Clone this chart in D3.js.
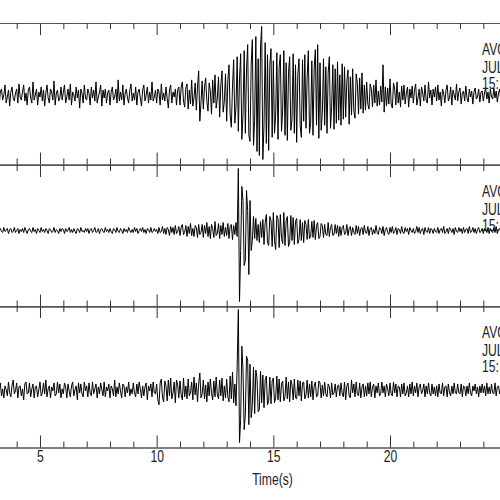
<!DOCTYPE html>
<html><head><meta charset="utf-8">
<script src="https://cdn.jsdelivr.net/npm/d3@7"></script>
<style>body{margin:0;background:#fff}svg{display:block}</style>
</head><body>
<svg id="c" width="500" height="500"></svg>
<script>
// ---- data ----
const timeStart = 3.0;        // s, first sample
const sampleInterval = 0.05;  // s (one row of 20 samples = 1 s)
const majorTicks = [0, 5, 10, 15, 20, 25];
const tickLabels = ["0", "5", "10", "15", "20", "25"];
const minorTicks = [1,2,3,4,6,7,8,9,11,12,13,14,16,17,18,19,21,22,23,24];
const axisTitle = "Time(s)";
const headerLines = [
  ["AVO", "JUL", "15:"],
  ["AVO", "JUL", "15:"],
  ["AVO", "JUL", "15:"]
];
const traceZ = [
 5,-3,8,2,-6,-10,3,6,-5,0,10,-8,-2,5,-11,3,8,-3,-6,2,
 6,-8,11,-2,-5,3,10,-6,2,-10,5,8,-3,-8,13,-5,0,6,-10,3,
 -2,8,-6,5,-11,2,10,-3,-8,6,3,-5,14,-10,2,5,-6,-3,8,-5,
 3,10,-8,-2,6,-5,11,-10,3,0,-6,8,-3,5,-13,6,2,-8,10,-3,
 -5,6,2,-10,8,-3,5,-6,13,-8,-2,3,10,-11,5,-3,6,-8,2,5,
 -10,3,8,-5,-2,6,-8,15,-6,3,-5,10,-10,2,6,-3,-8,5,11,-6,
 2,-5,8,-10,3,6,-3,-11,5,10,-6,0,8,-8,3,-5,13,-6,-2,5,
 -8,6,3,-10,11,-5,2,-6,8,-3,-13,5,10,-8,3,-2,6,-10,5,8,
 -10,8,13,-6,-12,7,11,-14,5,-9,15,-11,-3,12,-15,8,24,-26,-7,14,
 -14,8,17,-6,-16,12,4,-19,15,-8,20,-13,-3,18,-22,10,24,-17,-6,21,
 -26,14,30,-20,-32,9,35,-28,-12,38,-36,16,41,-44,-20,44,-38,25,50,-40,
 -46,30,55,-50,-25,58,-56,36,-60,48,68,-64,-30,52,-48,40,-55,30,46,-42,
 34,-38,-20,42,-44,28,40,-36,-15,44,-40,32,-45,22,38,-35,-24,41,-38,30,
 -47,20,36,-30,-42,35,-26,40,-33,18,44,-38,-28,34,-40,26,45,-30,50,-43,
 32,-35,-18,36,-30,28,-38,22,38,-33,-12,30,-34,26,-28,33,-25,20,-30,31,
 -24,28,-22,14,25,-29,18,-20,26,-16,-23,21,12,-19,17,-14,22,-18,10,-15,
 13,-9,-14,11,6,-12,10,-8,15,-11,4,-10,9,-7,30,-17,8,-11,7,-9,
 16,-9,-13,12,6,-10,13,-8,3,-12,9,-5,10,-9,2,8,-12,6,-3,9,
 -8,5,11,-10,-3,6,-11,8,2,-6,10,-5,-8,13,-3,5,-10,6,-2,8,
 -6,10,-5,3,-11,6,2,-8,5,10,-6,-3,8,-10,5,0,-5,11,-6,3,
 7,-9,2,4,-6,9,-3,-7,6,-2,4,-9,3,7,-4,-2,6,-7,3,4,
 -6,2,7,-4,3,-8,6,-2,-4,7,-3,4,-7,2,6,-6,3,-3,7,-4,
 3
];
const traceN = [
 1,-2,2,0,-3,1,2,-1,-2,3,-1,0,2,-3,1,2,-2,-1,3,-2,
 0,2,-3,1,-1,2,-2,3,0,-3,1,2,-1,-2,3,-1,1,-3,2,0,
 -2,3,-1,1,-2,2,0,-3,2,1,-2,-1,3,-2,1,0,-3,2,-1,2,
 1,-3,2,-1,0,3,-2,1,-2,2,-1,-3,2,1,-2,3,-1,0,-2,2,
 -1,2,-3,1,2,-2,0,3,-2,-1,2,-3,1,2,-1,-2,3,-1,1,-2,
 2,-1,-3,2,1,-2,3,-1,-2,2,0,-3,2,-1,1,-2,3,0,-2,1,
 -2,3,-1,2,-3,0,2,-1,3,-2,1,-3,2,1,-2,3,-2,-1,2,-1,
 1,-3,3,-2,-1,4,-3,2,-4,3,1,-5,4,-2,3,-4,5,-3,-1,4,
 -5,3,6,-4,-2,5,-6,4,-3,7,-5,2,-6,5,3,-7,6,-4,-2,6,
 -7,5,-3,8,-6,4,-8,6,2,-7,9,-5,-3,7,-8,5,-4,8,-6,3,
 -5,7,-8,4,6,-9,5,-4,8,-6,62,-71,-20,44,30,-35,-30,40,20,-44,
 30,-20,-10,14,-8,12,-10,6,-12,9,-7,11,-14,8,16,-12,-15,14,10,-16,
 18,-10,-19,15,12,-17,16,-8,-13,18,-15,10,14,-16,-12,15,-10,13,-14,9,
 12,-13,-9,11,-10,8,-12,10,6,-9,11,-8,-6,9,-7,10,-9,5,8,-8,
 -6,7,5,-7,6,-4,-5,8,-6,3,6,-5,-4,6,-3,5,-6,4,-5,3,
 5,-4,-3,6,-5,2,4,-5,3,-2,-4,5,-3,4,-5,2,3,-4,5,-2,
 -3,4,-5,2,3,-4,1,-3,5,-2,-4,3,2,-3,4,-5,1,3,-2,-4,
 3,-2,4,-3,-1,3,-4,2,1,-3,4,-2,-3,3,-1,2,-4,3,0,-2,
 2,-3,-1,4,-2,3,-3,1,2,-4,3,-1,-2,3,-3,2,1,-3,2,-1,
 -2,3,-3,1,2,-2,4,-3,-1,2,-3,3,1,-2,2,-4,3,-1,-2,3,
 -1,2,-3,3,-2,1,2,-3,4,-2,-1,3,-2,2,-3,1,3,-2,-1,2,
 -3,2,1,-2,3,-3,2,-1,-2,3,-2,4,-3,1,2,-2,-1,3,-3,2,
 -1
];
const traceE = [
 6,-4,8,-1,-7,3,7,-6,1,-8,4,0,-6,8,-3,-7,4,10,-4,-1,
 7,-8,3,4,-6,1,-10,6,8,-4,-3,7,-7,1,6,-8,3,4,-7,0,
 8,-6,-3,7,-4,10,-7,1,4,-8,3,-1,7,-6,-4,8,-3,6,-8,1,
 -4,7,3,-8,6,-1,-7,4,8,-6,0,4,-10,7,-3,6,-4,-7,8,-1,
 4,-7,7,-3,-6,8,-4,1,6,-8,3,-4,7,0,-6,8,-7,3,-1,6,
 -8,4,1,-6,10,-7,3,-4,7,-1,-8,6,4,-7,3,-3,8,-6,1,-4,
 7,-3,-7,6,-4,8,1,-8,4,-6,3,7,-10,4,-1,6,-7,8,-3,-4,
 6,-10,-15,7,11,-8,-12,9,4,-11,10,-6,12,-9,-3,8,-13,10,5,-8,
 9,-5,-10,12,-7,4,-9,11,-6,-3,8,-10,13,-5,7,-12,6,17,-8,-4,
 10,-9,5,-12,8,-6,11,-3,-10,9,-7,13,-5,-9,10,-6,12,-11,4,-8,
 11,-7,-12,14,-9,18,-13,6,-16,24,81,-53,-30,44,20,-40,-25,34,30,-35,
 26,-28,-15,23,-24,20,12,-22,-20,19,-13,15,-18,10,14,-15,-11,13,-14,9,
 12,-13,-8,14,-10,11,-12,6,9,-11,-7,13,-9,8,-12,10,5,-10,11,-8,
 -9,10,-6,9,-11,7,8,-9,-5,10,-8,6,-7,9,-10,4,8,-7,-6,9,
 7,-8,5,-6,8,-4,-7,6,3,-8,7,-5,-3,6,-7,4,5,-6,7,-3,
 -7,8,-10,4,7,-6,-8,10,-3,6,-7,8,-4,-6,7,-8,3,6,-7,4,
 -6,7,-4,8,-7,3,6,-8,4,-3,7,-6,-4,8,-3,4,-7,6,1,-6,
 7,-4,-6,8,-3,6,-7,4,3,-7,6,-4,7,-6,-3,4,-7,6,-4,8,
 -6,4,-3,7,-7,3,6,-4,-1,6,-7,4,-4,7,-3,-6,6,-4,3,-6,
 4,-7,6,-3,-4,7,-6,3,4,-7,6,-3,-6,4,-4,7,-3,-4,6,-3,
 -4,6,-7,4,3,-6,4,-4,7,-3,-6,4,-1,6,-4,3,-7,4,-3,6,
 -3,4,-6,7,-4,3,-4,6,-3,-4,7,-6,3,4,-4,1,-6,4,-3,4,
 -3
];
const traces = [traceZ, traceN, traceE];

// ---- layout ----
const svg = d3.select("#c");
const panelTops = [23, 165, 306];
const panelH = 141.5;
const font = "'Liberation Sans', Arial, Helvetica, sans-serif";
const squeeze = 0.76;

const x = d3.scaleLinear().domain([0, 25]).range([-76.67, 506.67]);

traces.forEach((tr, p) => {
  const top = panelTops[p], bot = top + panelH;
  const y = d3.scaleLinear().domain(d3.extent(tr)).range([bot - 5, top + 3.5]);

  const isLast = p === traces.length - 1;
  const mk = (axisFn, vals, size, labels) => axisFn(x).tickValues(vals)
      .tickSizeInner(-size).tickSizeOuter(0)
      .tickFormat(labels ? (d => tickLabels[majorTicks.indexOf(d)]) : "");
  [[d3.axisTop, top, false], [d3.axisBottom, bot, isLast]].forEach(([fn, yy, lab]) => {
    const gMaj = svg.append("g").attr("transform", `translate(0,${yy})`).call(mk(fn, majorTicks, 12, lab));
    const gMin = svg.append("g").attr("transform", `translate(0,${yy})`).call(mk(fn, minorTicks, 6, false));
    [gMaj, gMin].forEach(g => {
      g.select(".domain").attr("stroke", "#555");
      g.selectAll(".tick line").attr("stroke", "#333");
    });
    if (lab) {
      gMaj.selectAll(".tick text")
        .attr("font-family", font).attr("font-size", 16).attr("fill", "#222")
        .attr("transform", `scale(${squeeze},1)`);
    }
  });

  const line = d3.line()
    .x((d, i) => x(timeStart + i * sampleInterval))
    .y(d => y(d));
  svg.append("path").datum(tr).attr("d", line)
    .attr("fill", "none").attr("stroke", "#000").attr("stroke-width", 1);

  const hg = svg.append("g").attr("transform", `translate(482,${top + 31.5}) scale(${squeeze},1)`);
  headerLines[p].forEach((t, k) => {
    hg.append("text").attr("x", 0).attr("y", [0, 18.5, 35][k])
      .attr("font-family", font).attr("font-size", 16).attr("fill", "#222").text(t);
  });
});

svg.append("text")
  .attr("transform", `translate(272.5,485) scale(${squeeze},1)`)
  .attr("text-anchor", "middle")
  .attr("font-family", font).attr("font-size", 16).attr("fill", "#222")
  .text(axisTitle);
</script>
</body></html>
